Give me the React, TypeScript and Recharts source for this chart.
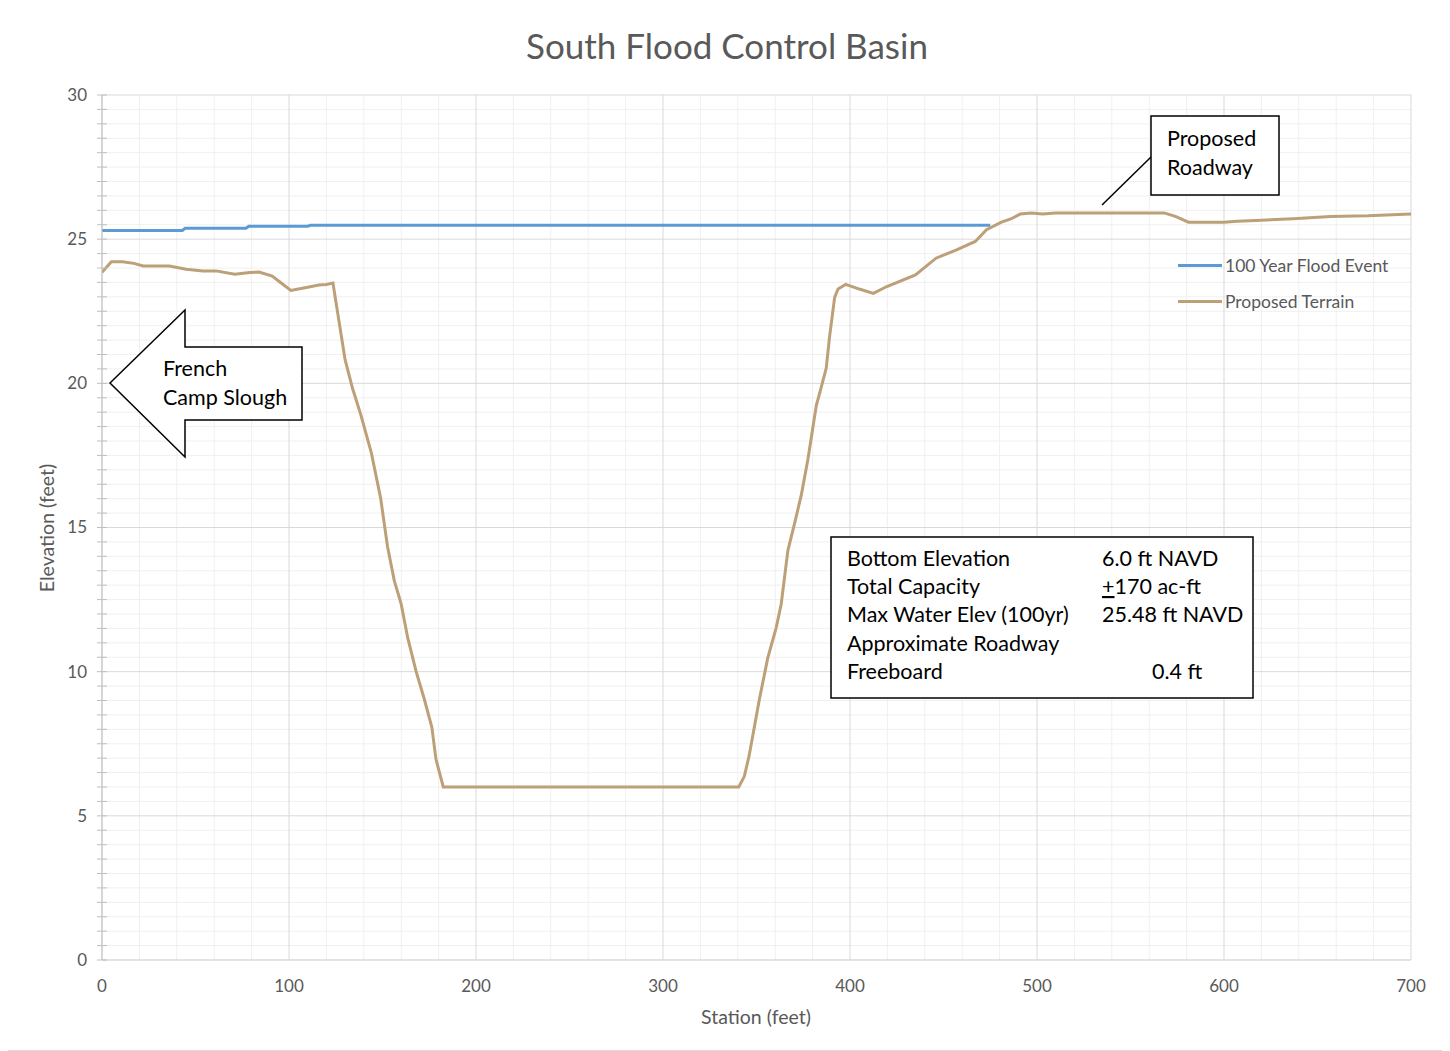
import React from 'react';
import { LineChart, Line, XAxis, YAxis, CartesianGrid, Legend } from 'recharts';

const terrainStations = [0, 5, 11, 17, 22, 36, 45, 54, 61, 71, 79, 84, 91, 96, 101, 105, 110, 116, 120, 123.5, 130, 134, 138.5, 144, 149, 152.7, 156.3, 160, 163.5, 168, 172.3, 176.4, 178.6, 182.5, 340.5, 343.5, 346, 349, 351.6, 356, 360.5, 363.2, 366.8, 370.4, 374, 377.5, 382, 384, 387.3, 389, 391.8, 393.6, 397.7, 405, 412.5, 419.4, 435, 446, 457, 467, 473, 481, 486, 491, 497, 503, 510, 568, 574, 581, 600, 607, 617, 637, 657, 677, 700];
const terrainElev = [23.85, 24.22, 24.22, 24.16, 24.07, 24.07, 23.96, 23.9, 23.9, 23.78, 23.84, 23.86, 23.72, 23.47, 23.22, 23.27, 23.33, 23.41, 23.43, 23.48, 20.82, 19.82, 18.89, 17.6, 16.02, 14.33, 13.16, 12.34, 11.17, 10.0, 9.06, 8.07, 6.96, 6.0, 6.0, 6.37, 7.07, 8.13, 9.06, 10.47, 11.52, 12.34, 14.21, 15.15, 16.14, 17.37, 19.24, 19.71, 20.53, 21.58, 22.98, 23.27, 23.43, 23.27, 23.12, 23.35, 23.76, 24.34, 24.63, 24.92, 25.33, 25.59, 25.7, 25.87, 25.91, 25.87, 25.91, 25.91, 25.79, 25.59, 25.59, 25.62, 25.65, 25.71, 25.79, 25.81, 25.87];

const floodStations = [0, 43, 44.5, 77, 78.5, 110, 111.5, 475];
const floodElev = [25.3, 25.3, 25.38, 25.38, 25.45, 25.45, 25.48, 25.48];

const seriesNames = ['100 Year Flood Event', 'Proposed Terrain'];
const seriesColors = ['#5b9bd5', '#bd9f78'];

const xTicks = [0, 100, 200, 300, 400, 500, 600, 700];
const xMinor = [20, 40, 60, 80, 120, 140, 160, 180, 220, 240, 260, 280, 320, 340, 360, 380, 420, 440, 460, 480, 520, 540, 560, 580, 620, 640, 660, 680];
const yMajor = [0, 5, 10, 15, 20, 25, 30];
const yAllTicks: number[] = [];
for (let i = 0; i <= 60; i++) yAllTicks.push(i / 2);
const yMinor = yAllTicks.filter((v) => v % 5 !== 0);

const statsLeft = ['Bottom Elevation', 'Total Capacity', 'Max Water Elev (100yr)', 'Approximate Roadway', 'Freeboard'];
const statsRight = ['6.0 ft NAVD', '+170 ac-ft', '25.48 ft NAVD', '', '0.4 ft'];

const title = 'South Flood Control Basin';
const xLabel = 'Station (feet)';
const yLabel = 'Elevation (feet)';

const terrainData = terrainStations.map((s, i) => ({ x: s, y: terrainElev[i] }));
const floodData = floodStations.map((s, i) => ({ x: s, y: floodElev[i] }));

const FONT = 'Lato, "Open Sans", sans-serif';
const GRAY = '#595959';
const BOXFONT = 21.5;

const YTick = (props: any) => {
  const { x, y, payload } = props;
  const v = payload.value;
  return (
    <g>
      <line x1={x - 5} x2={x + 5} y1={y} y2={y} stroke="#bfbfbf" strokeWidth={1} />
      {v % 5 === 0 && (
        <text x={x - 15} y={y} dy="0.35em" textAnchor="end" fill={GRAY} fontSize={17} fontFamily={FONT}>
          {v}
        </text>
      )}
    </g>
  );
};

const LegendContent = () => (
  <div style={{ fontFamily: FONT, fontSize: 17.5, color: GRAY }}>
    {seriesNames.map((n, i) => (
      <div key={n} style={{ display: 'flex', alignItems: 'center', height: 36 }}>
        <div style={{ width: 44, height: 3, background: seriesColors[i], marginRight: 3 }} />
        <span>{n}</span>
      </div>
    ))}
  </div>
);

export default function App() {
  const rowY = [558, 586, 614, 643, 671];
  return (
    <div
      style={{
        position: 'relative',
        width: 1444,
        height: 1046,
        marginLeft: -2,
        marginTop: -2,
        border: '2px solid #d9d9d9',
        boxSizing: 'border-box',
        background: '#fff',
      }}
    >
      <div style={{ position: 'absolute', left: 0, top: 0 }}>
        <LineChart width={1440} height={1042} margin={{ top: 87, right: 37, left: 34, bottom: 60 }}>
          <CartesianGrid
            horizontalValues={yMinor}
            verticalValues={xMinor}
            stroke="#f0f0f0"
            strokeWidth={1}
          />
          <CartesianGrid horizontalValues={yMajor} verticalValues={xTicks} stroke="#d9d9d9" strokeWidth={1} />
          <XAxis
            type="number"
            dataKey="x"
            domain={[0, 700]}
            ticks={xTicks}
            interval={0}
            tickLine={false}
            axisLine={{ stroke: '#d9d9d9' }}
            tick={{ fill: GRAY, fontSize: 17, fontFamily: FONT }}
            tickMargin={14}
            height={30}
            allowDataOverflow
          />
          <YAxis
            type="number"
            dataKey="y"
            domain={[0, 30]}
            ticks={yAllTicks}
            interval={0}
            tickLine={false}
            tickSize={0}
            tickMargin={0}
            axisLine={{ stroke: '#bfbfbf' }}
            tick={<YTick />}
            width={60}
            allowDataOverflow
          />
          <Legend
            layout="horizontal"
            verticalAlign="middle"
            align="center"
            content={<LegendContent />}
            wrapperStyle={{ left: 1170, top: 239, width: 260, height: 72 }}
          />
          <Line
            data={floodData}
            dataKey="y"
            name={seriesNames[0]}
            type="linear"
            stroke={seriesColors[0]}
            strokeWidth={3}
            dot={false}
            isAnimationActive={false}
          />
          <Line
            data={terrainData}
            dataKey="y"
            name={seriesNames[1]}
            type="linear"
            stroke={seriesColors[1]}
            strokeWidth={3}
            dot={false}
            isAnimationActive={false}
          />
        </LineChart>
      </div>
      <svg
        width={1440}
        height={1042}
        style={{ position: 'absolute', left: 0, top: 0, pointerEvents: 'none' }}
        fontFamily={FONT}
      >
        <text x={719} y={39} dy="0.35em" textAnchor="middle" fill={GRAY} fontSize={35}>
          {title}
        </text>
        <text x={748} y={1009} dy="0.35em" textAnchor="middle" fill={GRAY} fontSize={19.5}>
          {xLabel}
        </text>
        <text
          x={39}
          y={520}
          dy="0.35em"
          textAnchor="middle"
          fill={GRAY}
          fontSize={19.5}
          transform="rotate(-90 39 520)"
        >
          {yLabel}
        </text>

        {/* French Camp Slough arrow */}
        <polygon
          points="102,375 177,302 177,339 294,339 294,412 177,412 177,449"
          fill="#fff"
          stroke="#000"
          strokeWidth={1.5}
        />
        <text x={155} y={368} fill="#000" fontSize={BOXFONT}>French</text>
        <text x={155} y={397} fill="#000" fontSize={BOXFONT}>Camp Slough</text>

        {/* Proposed Roadway callout */}
        <line x1={1094} y1={197} x2={1143} y2={149} stroke="#000" strokeWidth={1.5} />
        <rect x={1143} y={108} width={128} height={79} fill="#fff" stroke="#000" strokeWidth={1.5} />
        <text x={1159} y={138} fill="#000" fontSize={BOXFONT}>Proposed</text>
        <text x={1159} y={167} fill="#000" fontSize={BOXFONT}>Roadway</text>

        {/* Stats box */}
        <rect x={823} y={529} width={422} height={161} fill="#fff" stroke="#000" strokeWidth={1.5} />
        {statsLeft.map((t, i) => (
          <text key={t} x={839} y={rowY[i]} fill="#000" fontSize={BOXFONT}>
            {t}
          </text>
        ))}
        {statsRight.map((t, i) => {
          if (!t) return null;
          const xx = i === 4 ? 1144 : 1094;
          if (t.startsWith('+')) {
            return (
              <text key={i} x={xx} y={rowY[i]} fill="#000" fontSize={BOXFONT}>
                <tspan textDecoration="underline">+</tspan>
                <tspan>{t.slice(1)}</tspan>
              </text>
            );
          }
          return (
            <text key={i} x={xx} y={rowY[i]} fill="#000" fontSize={BOXFONT}>
              {t}
            </text>
          );
        })}
      </svg>
    </div>
  );
}
